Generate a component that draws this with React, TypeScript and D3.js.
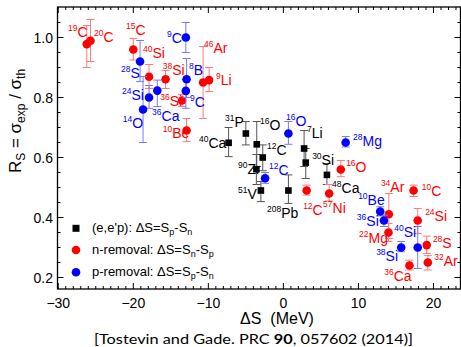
import * as d3 from 'd3';

// [nuclide, ΔS (MeV), Rs, lower, upper]
const eepData: [string, number, number, number, number][] = [
  ['40Ca', -7.3, 0.649, 0.603, 0.70],
  ['31P', -5.0, 0.68, 0.642, 0.72],
  ['16O', -3.55, 0.644, 0.57, 0.72],
  ['12C', -2.75, 0.60, 0.556, 0.642],
  ['90Zr', -3.6, 0.561, 0.51, 0.61],
  ['51V', -3.0, 0.49, 0.453, 0.52],
  ['208Pb', 0.67, 0.49, 0.447, 0.542],
  ['7Li', 2.76, 0.63, 0.57, 0.69],
  ['30Si', 2.98, 0.583, 0.53, 0.63],
  ['48Ca', 5.8, 0.542, 0.51, 0.58],
];

const nRemData: [string, number, number, number, number][] = [
  ['19C', -26.2, 0.978, 0.90, 1.04],
  ['20C', -25.7, 0.989, 0.92, 1.06],
  ['15C', -20.0, 0.96, 0.925, 0.997],
  ['40Si', -17.9, 0.869, 0.83, 0.91],
  ['38Si', -15.7, 0.861, 0.83, 0.89],
  ['36Si', -13.5, 0.79, 0.77, 0.81],
  ['46Ar', -10.7, 0.85, 0.73, 0.97],
  ['9Li', -9.9, 0.858, 0.82, 0.90],
  ['10Be', -12.9, 0.69, 0.653, 0.73],
  ['12C', 3.1, 0.49, 0.475, 0.508],
  ['57Ni', 6.1, 0.48, 0.455, 0.51],
  ['16O', 7.65, 0.56, 0.536, 0.59],
  ['10C', 17.35, 0.49, 0.47, 0.508],
  ['34Ar', 14.05, 0.411, 0.33, 0.48],
  ['22Mg', 14.0, 0.35, 0.32, 0.38],
  ['24Si', 17.9, 0.39, 0.347, 0.43],
  ['28S', 19.1, 0.308, 0.28, 0.338],
  ['32Ar', 19.25, 0.25, 0.225, 0.273],
  ['36Ca', 16.8, 0.24, 0.225, 0.258],
];

const pRemData: [string, number, number, number, number][] = [
  ['28S', -19.1, 0.92, 0.853, 0.99],
  ['24Si', -17.9, 0.80, 0.764, 0.84],
  ['14O', -18.7, 0.76, 0.65, 0.87],
  ['36Ca', -16.8, 0.823, 0.77, 0.858],
  ['8B', -12.9, 0.861, 0.80, 0.93],
  ['9C', -13.0, 0.822, 0.764, 0.86],
  ['9C', -13.0, 1.0, 0.95, 1.05],
  ['16O', 0.67, 0.68, 0.644, 0.72],
  ['12C', -2.44, 0.531, 0.514, 0.55],
  ['28Mg', 8.3, 0.65, 0.635, 0.67],
  ['10Be', 12.9, 0.42, 0.405, 0.436],
  ['36Si', 13.4, 0.39, 0.37, 0.408],
  ['40Si', 17.9, 0.30, 0.23, 0.37],
  ['38Si', 15.7, 0.30, 0.286, 0.32],
];

// label anchors in data units, same order as the series above
const eepLabelAt: [number, number][] = [
  [-11.24, 0.632], [-7.77, 0.703], [-3.11, 0.692], [-2.17, 0.608], [-6.04, 0.545],
  [-6.04, 0.462], [-2.17, 0.398], [3.16, 0.665], [3.83, 0.575], [6.49, 0.482],
];
const nRemLabelAt: [number, number][] = [
  [-28.7, 1.002], [-25.24, 0.986], [-20.97, 1.008], [-18.71, 0.932], [-16.08, 0.875],
  [-16.4, 0.772], [-10.57, 0.948], [-8.97, 0.842], [-16.08, 0.665], [2.63, 0.408],
  [5.29, 0.415], [8.36, 0.552], [18.45, 0.472], [12.99, 0.485], [10.09, 0.315],
  [18.89, 0.388], [19.92, 0.298], [20.09, 0.238], [13.43, 0.188],
];
const pRemLabelAt: [number, number][] = [
  [-21.64, 0.865], [-21.51, 0.792], [-21.41, 0.698], [-17.5, 0.722], [-12.57, 0.875],
  [-12.44, 0.768], [-15.51, 0.982], [0.36, 0.705], [-1.91, 0.542], [9.29, 0.638],
  [9.96, 0.442], [9.79, 0.372], [14.76, 0.335], [12.36, 0.255],
];

const xMajor = [-30, -20, -10, 0, 10, 20];
const yMajor = [0.2, 0.4, 0.6, 0.8, 1.0];

const W = 461, H = 347;
const x = d3.scaleLinear().domain([-30.1, 23.6]).range([57.5, 460.5]);
const y = d3.scaleLinear().domain([0.1617, 1.1017]).range([289, 7]);
const FONT = '"Liberation Sans", Arial, Helvetica, sans-serif';

function Nuclide({ name, at, color }: { name: string; at: [number, number]; color: string }) {
  const m = name.match(/^(\d+)(.*)$/)!;
  return (
    <text x={x(at[0])} y={y(at[1])} fill={color} fontFamily={FONT}>
      <tspan fontSize={8.5} dy={-6}>{m[1]}</tspan>
      <tspan fontSize={14} dy={6}>{m[2]}</tspan>
    </text>
  );
}

function Series({ data, labels, color, barColor, shape }: any) {
  return (
    <g>
      {data.map((d: any, i: number) => (
        <g key={'b' + i} stroke={barColor} strokeWidth={1}>
          <line x1={x(d[1])} x2={x(d[1])} y1={y(d[3])} y2={y(d[4])} />
          <line x1={x(d[1]) - 4} x2={x(d[1]) + 4} y1={y(d[3])} y2={y(d[3])} />
          <line x1={x(d[1]) - 4} x2={x(d[1]) + 4} y1={y(d[4])} y2={y(d[4])} />
        </g>
      ))}
      {data.map((d: any, i: number) =>
        shape === 'square' ? (
          <rect key={'m' + i} x={x(d[1]) - 3.3} y={y(d[2]) - 3.3} width={6.6} height={6.6} fill={color} />
        ) : (
          <circle key={'m' + i} cx={x(d[1])} cy={y(d[2])} r={4.3} fill={color} />
        )
      )}
      {data.map((d: any, i: number) => (
        <Nuclide key={'l' + i} name={d[0]} at={labels[i]} color={color} />
      ))}
    </g>
  );
}

export default function App() {
  const [x0, x1] = x.range();
  const [y0, y1] = y.range();
  const xMinor = d3.range(-30, 24, 1);
  const yMinor = d3.range(0.2, 1.1, 0.05);
  return (
    <svg width={W} height={H} style={{ position: 'absolute', left: 0, top: 0, background: '#fff' }}>
      {/* ticks, inward on all four sides */}
      <g stroke="#000" strokeWidth={1}>
        {xMinor.map((v) => {
          const len = xMajor.includes(v) ? 6 : 3;
          return (
            <g key={'xt' + v}>
              <line x1={x(v)} x2={x(v)} y1={y0} y2={y0 - len} />
              <line x1={x(v)} x2={x(v)} y1={y1} y2={y1 + len} />
            </g>
          );
        })}
        {yMinor.map((v, i) => {
          const len = i % 4 === 0 ? 6 : 3;
          return (
            <g key={'yt' + i}>
              <line x1={x0} x2={x0 + len} y1={y(v)} y2={y(v)} />
              <line x1={x1} x2={x1 - len} y1={y(v)} y2={y(v)} />
            </g>
          );
        })}
      </g>
      <rect x={x0} y={y1} width={x1 - x0} height={y0 - y1} fill="none" stroke="#000" strokeWidth={1.3} />

      {xMajor.map((v) => (
        <text key={'xl' + v} x={x(v)} y={308} textAnchor="middle" fontSize={14} fontFamily={FONT}>
          {v < 0 ? '\u2212' + Math.abs(v) : v}
        </text>
      ))}
      {yMajor.map((v) => (
        <text key={'yl' + v} x={53} y={y(v) + 5} textAnchor="end" fontSize={14} fontFamily={FONT}>
          {v.toFixed(1)}
        </text>
      ))}

      <text x={277} y={324} textAnchor="middle" fontSize={16} fontFamily={FONT}>
        ΔS{'\u00a0\u00a0'}(MeV)
      </text>
      <text transform="translate(21,121) rotate(-90)" textAnchor="middle" fontSize={17} fontFamily={FONT}>
        R<tspan fontSize={12} dy={4}>S</tspan>
        <tspan dy={-4}> = σ</tspan>
        <tspan fontSize={12} dy={4}>exp</tspan>
        <tspan dy={-4}> / σ</tspan>
        <tspan fontSize={12} dy={4}>th</tspan>
      </text>
      <text x={253.5} y={344} textAnchor="middle" fontSize={13} fontFamily='Lato, "Open Sans", sans-serif' textLength={319} lengthAdjust="spacingAndGlyphs">
        [Tostevin and Gade. PRC <tspan fontWeight="bold">90</tspan>, 057602 (2014)]
      </text>

      <Series data={eepData} labels={eepLabelAt} color="#000" barColor="#555" shape="square" />
      <Series data={nRemData} labels={nRemLabelAt} color="#ff0000" barColor="#ff7a7a" shape="circle" />
      <Series data={pRemData} labels={pRemLabelAt} color="#0000ff" barColor="#7a7aff" shape="circle" />

      {/* legend */}
      <g fontFamily={FONT} fontSize={13}>
        <rect x={72.5} y={224.8} width={7} height={7} fill="#000" />
        <circle cx={76} cy={250} r={4.3} fill="#ff0000" />
        <circle cx={76} cy={272.3} r={4.3} fill="#0000ff" />
        <text x={92} y={232}>
          (e,e'p): ΔS=S<tspan fontSize={9} dy={3}>p</tspan><tspan dy={-3}>-S</tspan><tspan fontSize={9} dy={3}>n</tspan>
        </text>
        <text x={92} y={254}>
          n-removal: ΔS=S<tspan fontSize={9} dy={3}>n</tspan><tspan dy={-3}>-S</tspan><tspan fontSize={9} dy={3}>p</tspan>
        </text>
        <text x={92} y={276}>
          p-removal: ΔS=S<tspan fontSize={9} dy={3}>p</tspan><tspan dy={-3}>-S</tspan><tspan fontSize={9} dy={3}>n</tspan>
        </text>
      </g>
    </svg>
  );
}
